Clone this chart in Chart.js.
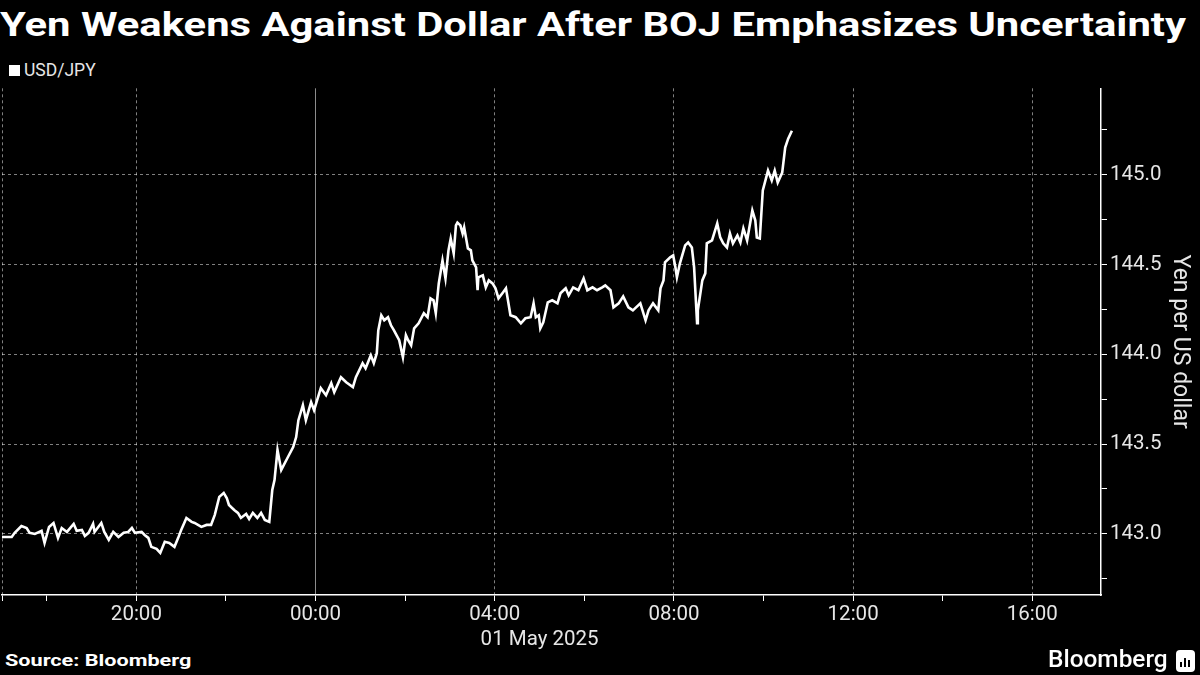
<!DOCTYPE html>
<html><head><meta charset="utf-8">
<script src="https://cdn.jsdelivr.net/npm/chart.js@4"></script>
<style>
html,body{margin:0;padding:0;background:#000;width:1200px;height:675px;overflow:hidden;}
#title{position:absolute;left:0;top:5px;color:#fff;font-family:Roboto,sans-serif;font-weight:bold;font-size:33px;white-space:nowrap;transform-origin:0 0;}
#legend{position:absolute;left:9px;top:60px;color:#e6e6e6;font:17.5px Roboto,sans-serif;}
#legend .box{display:inline-block;width:11px;height:11px;background:#fff;margin-right:4px;vertical-align:0px;}
#wrap{position:absolute;left:0;top:73px;width:1200px;height:577px;}
#source{position:absolute;left:5px;top:650px;color:#fff;font:bold 17px Roboto,sans-serif;white-space:nowrap;transform-origin:0 0;}
#logo{position:absolute;left:1048px;top:646px;color:#fff;font:500 23px Roboto,sans-serif;white-space:nowrap;transform-origin:0 0;}
#icon{position:absolute;left:1176px;top:650px;width:19px;height:22px;background:#fff;border-radius:4px;}
#icon i{position:absolute;bottom:5px;width:2px;background:#000;}
</style></head>
<body>
<div id="title">Yen Weakens Against Dollar After BOJ Emphasizes Uncertainty</div>
<div id="legend"><span class="box"></span>USD/JPY</div>
<div id="wrap"><canvas id="c"></canvas></div>
<div id="source">Source: Bloomberg</div>
<div id="logo">Bloomberg</div>
<div id="icon"><i style="left:4px;height:5px"></i><i style="left:8px;height:9px"></i><i style="left:12px;height:7px"></i></div>
<script>
// minutes relative to 00:00 on 01 May 2025
const timeMinutes = [-420,-407,-403,-394,-387,-383,-376,-367,-363,-357,-351,-345,-340,-333,-324,-320,-313,-309,-304,-298,-296,-287,-283,-277,-271,-264,-257,-251,-246,-242,-233,-229,-224,-220,-213,-208,-202,-196,-189,-184,-180,-173,-166,-162,-153,-146,-140,-135,-129,-123,-119,-116,-109,-104,-100,-93,-89,-84,-78,-73,-68,-62,-58,-55,-51,-46,-37,-30,-26,-23,-17,-13,-6,-2,7,14,21,25,34,41,50,54,63,67,74,78,82,84,88,92,97,101,105,112,117,121,124,128,132,138,145,150,154,158,161,165,170,174,178,181,185,188,190,194,197,199,204,208,210,215,217,218,224,228,232,237,241,245,251,255,257,261,268,275,281,288,292,295,299,301,305,311,317,324,328,335,339,345,352,359,364,371,377,384,388,395,399,406,412,419,425,435,442,446,452,459,462,466,468,475,479,482,484,488,495,499,504,507,511,512,518,522,524,531,538,542,546,551,555,559,565,569,573,578,585,589,591,595,599,606,611,615,619,625,629,633,638];
const usdJpy = [142.983,142.983,143.006,143.044,143.033,143.006,143.000,143.017,142.950,143.039,143.061,142.978,143.033,143.011,143.056,143.017,143.022,142.989,143.006,143.056,143.011,143.061,143.011,142.967,143.011,142.983,143.006,143.011,143.033,143.006,143.011,142.994,142.978,142.928,142.917,142.894,142.956,142.950,142.928,142.978,143.022,143.089,143.067,143.061,143.039,143.050,143.050,143.106,143.206,143.228,143.200,143.161,143.133,143.117,143.089,143.111,143.083,143.117,143.089,143.117,143.078,143.067,143.244,143.300,143.467,143.356,143.428,143.483,143.539,143.633,143.717,143.633,143.733,143.689,143.811,143.772,143.839,143.789,143.872,143.844,143.817,143.872,143.950,143.922,143.994,143.950,144.006,144.133,144.217,144.189,144.206,144.161,144.133,144.078,143.983,144.106,144.078,144.050,144.144,144.172,144.228,144.206,144.311,144.300,144.228,144.394,144.522,144.422,144.578,144.644,144.561,144.717,144.733,144.717,144.672,144.706,144.589,144.578,144.522,144.483,144.356,144.428,144.439,144.372,144.411,144.394,144.367,144.311,144.344,144.367,144.317,144.217,144.206,144.172,144.200,144.206,144.283,144.206,144.217,144.144,144.178,144.289,144.300,144.283,144.339,144.367,144.328,144.372,144.356,144.422,144.356,144.372,144.356,144.372,144.383,144.356,144.261,144.283,144.322,144.261,144.244,144.283,144.189,144.244,144.283,144.244,144.367,144.411,144.511,144.539,144.550,144.483,144.428,144.506,144.606,144.622,144.594,144.483,144.172,144.244,144.411,144.450,144.617,144.633,144.728,144.650,144.617,144.594,144.672,144.617,144.661,144.622,144.700,144.633,144.800,144.744,144.650,144.644,144.911,145.022,144.967,145.022,144.956,145.011,145.150,145.200,145.244];

const xTickValues = [-420,-360,-240,-120,0,120,240,300,360,480,600,720,840,960];
const xTickLabels = ['','','20:00','','00:00','','04:00',['','01 May 2025'],'','08:00','','12:00','','16:00'];
const yTickValues = [142.75,143.0,143.25,143.5,143.75,144.0,144.25,144.5,144.75,145.0,145.25];
const yTickLabels = ['','143.0','','143.5','','144.0','','144.5','','145.0',''];
const seriesName = 'USD/JPY';
const yAxisTitle = 'Yen per US dollar';

function fitWidth(id, w){const t=document.getElementById(id);t.style.transform='scaleX('+(w/t.scrollWidth)+')';}
fitWidth('title',1186); fitWidth('source',187); fitWidth('logo',120);

const points = timeMinutes.map((m,i)=>({x:m,y:usdJpy[i]}));
const GRID = 'rgba(255,255,255,0.5)';
const FONT = {family:'Roboto, sans-serif', size:20.5};

new Chart(document.getElementById('c'), {
  type:'line',
  data:{datasets:[{label:seriesName,data:points,borderColor:'#fff',borderWidth:2.6,pointRadius:0,tension:0,fill:false}]},
  options:{
    responsive:true,maintainAspectRatio:false,animation:false,
    layout:{padding:{top:1,left:0,right:0,bottom:0}},
    plugins:{legend:{display:false},tooltip:{enabled:false}},
    scales:{
      x:{type:'linear',min:-420,max:1052,
        afterBuildTicks:s=>{s.ticks=xTickValues.map(v=>({value:v}));},
        afterFit:s=>{s.height=55;},
        ticks:{autoSkip:false,maxRotation:0,color:'#e6e6e6',font:FONT,padding:2,
          callback:(v)=>{const i=xTickValues.indexOf(v);return i<0?'':xTickLabels[i];}},
        grid:{drawOnChartArea:true,tickLength:6,
          color:c=>{const v=c.tick&&c.tick.value;if(v===0)return 'rgba(255,255,255,0.55)';if(v===-420||(v%240===0&&v!==0&&v!==300))return GRID;return 'rgba(0,0,0,0)';},
          tickColor:c=>{const v=c.tick&&c.tick.value;return v===300?'rgba(0,0,0,0)':'#fff';},
          lineWidth:1},
        border:{display:true,color:'#fff',width:1.5,dash:c=>{const v=c.tick&&c.tick.value;return (v===undefined||v===0)?[]:[3,3];}}
      },
      y:{type:'linear',position:'right',min:142.66,max:145.48,
        afterBuildTicks:s=>{s.ticks=yTickValues.map(v=>({value:v}));},
        afterFit:s=>{s.width=99;},
        ticks:{color:'#e6e6e6',font:FONT,padding:3,
          callback:(v)=>{const i=yTickValues.indexOf(v);return i<0?'':yTickLabels[i];}},
        grid:{tickLength:6,
          color:c=>{const v=c.tick&&c.tick.value;return (v!==undefined&&Math.abs((v*2)-Math.round(v*2))<1e-6)?GRID:'rgba(0,0,0,0)';},
          tickColor:'#fff',lineWidth:1},
        border:{display:true,color:'#fff',width:1.5,dash:c=>(c.tick?[3,3]:[])},
        title:{display:true,text:yAxisTitle,color:'#e6e6e6',font:{family:'Roboto, sans-serif',size:23},padding:{top:6,bottom:0}}
      }
    }
  }
});
</script>
</body></html>
